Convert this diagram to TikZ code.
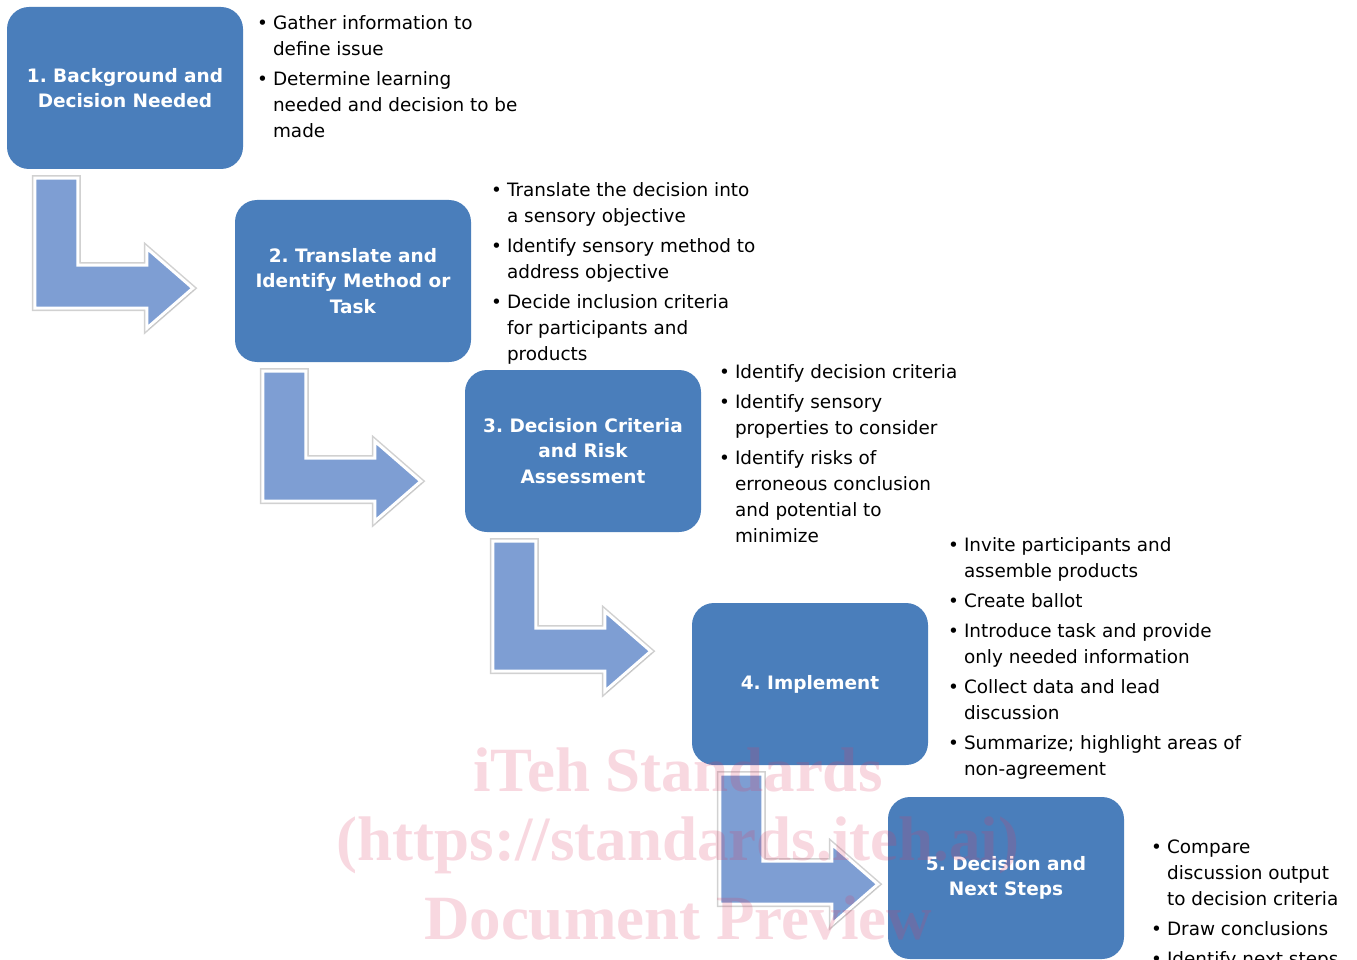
\documentclass[tikz,border=0pt]{standalone}
\usepackage{fontspec}
\setmainfont{DejaVu Sans}
\newfontfamily\wmfont{Liberation Serif}
\usetikzlibrary{shadows}

\definecolor{boxblue}{RGB}{74,126,187}
\definecolor{arrowblue}{RGB}{126,158,211}
\definecolor{wmpink}{RGB}{220,60,100}

\begin{document}
\frenchspacing
\begin{tikzpicture}[x=1pt,y=-1pt,
    stepbox/.style={rectangle, rounded corners=22pt, fill=boxblue, text=white,
      minimum width=236pt, minimum height=162pt, align=center,
      font=\fontsize{18.5}{25.5}\selectfont\bfseries},
    notes/.style={inner sep=0pt, anchor=north west,
      font=\fontsize{18.4}{26}\selectfont},
    bendarrow/.style={fill=arrowblue, draw=white, line width=3pt,
      preaction={draw=black!18, line width=6pt},
      drop shadow={opacity=0.25, shadow xshift=1.5pt, shadow yshift=-1.5pt}},
    watermark/.style={text=wmpink, opacity=0.2,
      font=\wmfont\fontsize{63}{75}\selectfont\bfseries}]
  \useasboundingbox (0,0) rectangle (1357,960);

  % Steps
  \node[stepbox] (b1) at (125,88) {1. Background and\\Decision Needed};
  \node[stepbox] (b2) at (353,281) {2. Translate and\\Identify Method or\\Task};
  \node[stepbox] (b3) at (583,451) {3. Decision Criteria\\and Risk\\Assessment};
  \node[stepbox] (b4) at (810,684) {4. Implement};
  \node[stepbox] (b5) at (1006,878) {5. Decision and\\Next Steps};

  % Bent arrows between the steps
  \foreach \b in {b1,b2,b3,b4}
    \draw[bendarrow, shift={(\b.south west)}] (28,9) -- (71,9) -- (71,96)
      -- (140,96) -- (140,79) -- (186,119) -- (140,159) -- (140,139)
      -- (28,139) -- cycle;

  % Notes for each step
  \node[notes] (n1) at (257,11) {\begin{tabular}{@{}c@{\hspace{5pt}}l@{}}
    \textbullet & Gather information to\\ & define issue\\[4pt]
    \textbullet & Determine learning\\ & needed and decision to be\\ & made
  \end{tabular}};
  \node[notes] (n2) at (491,178) {\begin{tabular}{@{}c@{\hspace{5pt}}l@{}}
    \textbullet & Translate the decision into\\ & a sensory objective\\[4pt]
    \textbullet & Identify sensory method to\\ & address objective\\[4pt]
    \textbullet & Decide inclusion criteria\\ & for participants and\\ & products
  \end{tabular}};
  \node[notes] (n3) at (719,360) {\begin{tabular}{@{}c@{\hspace{5pt}}l@{}}
    \textbullet & Identify decision criteria\\[4pt]
    \textbullet & Identify sensory\\ & properties to consider\\[4pt]
    \textbullet & Identify risks of\\ & erroneous conclusion\\ & and potential to\\ & minimize
  \end{tabular}};
  \node[notes] (n4) at (948,533) {\begin{tabular}{@{}c@{\hspace{5pt}}l@{}}
    \textbullet & Invite participants and\\ & assemble products\\[4pt]
    \textbullet & Create ballot\\[4pt]
    \textbullet & Introduce task and provide\\ & only needed information\\[4pt]
    \textbullet & Collect data and lead\\ & discussion\\[4pt]
    \textbullet & Summarize; highlight areas of\\ & non-agreement
  \end{tabular}};
  \node[notes] (n5) at (1151,835) {\begin{tabular}{@{}c@{\hspace{5pt}}l@{}}
    \textbullet & Compare\\ & discussion output\\ & to decision criteria\\[4pt]
    \textbullet & Draw conclusions\\[4pt]
    \textbullet & Identify next steps
  \end{tabular}};

  % Watermark
  \node[watermark] (w1) at (678,770) {iTeh Standards};
  \node[watermark] (w2) at (678,845) {(https://standards.iteh.ai)};
  \node[watermark] (w3) at (678,918) {Document Preview};
\end{tikzpicture}
\end{document}
